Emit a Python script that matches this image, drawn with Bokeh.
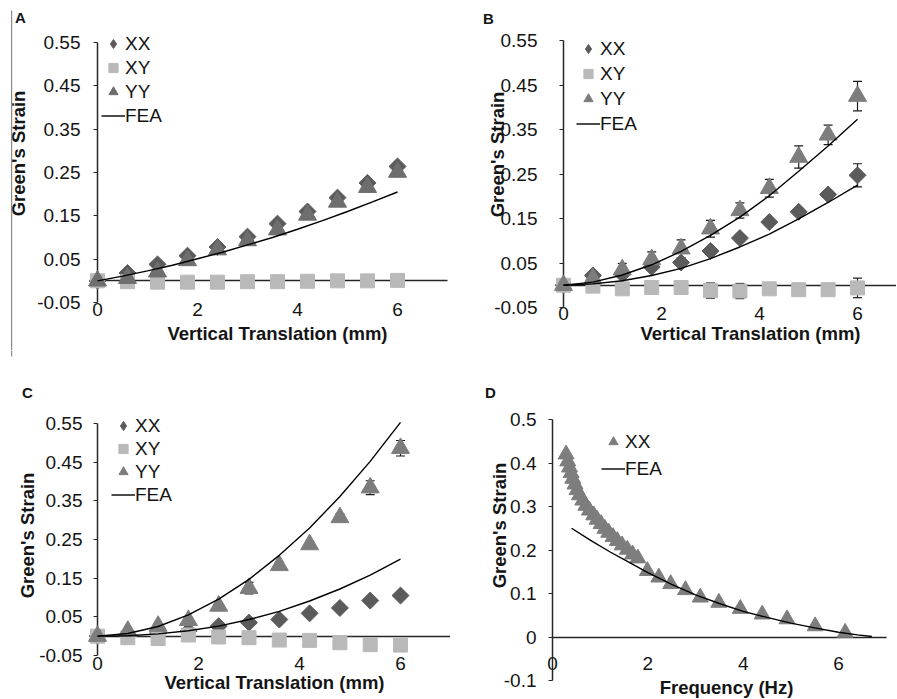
from bokeh.plotting import figure
from bokeh.models import (ColumnDataSource, Label, Legend, LegendItem, FixedTicker,
                          Whisker, TeeHead, BoxAnnotation, Range1d, LinearAxis)
from bokeh.layouts import column, row
from bokeh.embed import file_html
from bokeh.resources import INLINE

# ---------------- data ----------------
disp = [0, 0.6, 1.2, 1.8, 2.4, 3.0, 3.6, 4.2, 4.8, 5.4, 6.0]

A_xx = [0.000, 0.018, 0.038, 0.058, 0.078, 0.102, 0.132, 0.160, 0.192, 0.226, 0.264]
A_xy = [0.000, -0.002, -0.003, -0.003, -0.003, -0.002, -0.002, -0.001, 0.000, 0.000, 0.001]
A_yy = [0.000, 0.006, 0.021, 0.047, 0.072, 0.093, 0.118, 0.152, 0.182, 0.216, 0.251]
A_fea_x = [0, 0.5, 1, 1.5, 2, 2.5, 3, 3.5, 4, 4.5, 5, 5.5, 6]
A_fea = [0.000, 0.011, 0.023, 0.036, 0.051, 0.066, 0.083, 0.100, 0.119, 0.139, 0.160, 0.182, 0.205]

B_xx = [0.000, 0.022, 0.025, 0.041, 0.051, 0.077, 0.106, 0.142, 0.165, 0.204, 0.247]
B_xx_err = [0.000, 0.004, 0.005, 0.006, 0.007, 0.008, 0.008, 0.008, 0.008, 0.006, 0.026]
B_xy = [0.000, -0.002, -0.008, -0.005, -0.005, -0.012, -0.013, -0.008, -0.010, -0.010, -0.006]
B_xy_err = [0.000, 0.003, 0.003, 0.003, 0.003, 0.017, 0.017, 0.004, 0.004, 0.004, 0.022]
B_yy = [0.000, 0.015, 0.035, 0.058, 0.082, 0.127, 0.168, 0.218, 0.288, 0.338, 0.425]
B_yy_err = [0.000, 0.006, 0.014, 0.017, 0.020, 0.019, 0.017, 0.020, 0.025, 0.022, 0.033]
B_fea_yy = [0.000, 0.007, 0.023, 0.046, 0.076, 0.112, 0.153, 0.201, 0.256, 0.313, 0.373]
B_fea_xx = [0.000, 0.003, 0.010, 0.022, 0.038, 0.060, 0.086, 0.115, 0.149, 0.186, 0.225]

C_xx = [0.000, 0.004, 0.008, 0.013, 0.026, 0.035, 0.043, 0.059, 0.073, 0.092, 0.105]
C_xy = [0.000, -0.004, -0.006, 0.003, -0.002, -0.004, -0.010, -0.011, -0.017, -0.022, -0.023]
C_yy = [0.000, 0.013, 0.026, 0.041, 0.078, 0.124, 0.183, 0.237, 0.307, 0.384, 0.486]
C_yy_err = [0.000, 0.004, 0.005, 0.005, 0.006, 0.015, 0.008, 0.007, 0.009, 0.018, 0.020]
C_fea_yy = [0.000, 0.007, 0.025, 0.055, 0.096, 0.147, 0.209, 0.280, 0.361, 0.452, 0.553]
C_fea_xx = [0.000, 0.001, 0.006, 0.014, 0.026, 0.043, 0.064, 0.091, 0.122, 0.158, 0.199]

D_freq = [0.285, 0.32, 0.356, 0.39, 0.425, 0.473, 0.515, 0.565, 0.635, 0.70, 0.775, 0.865,
          0.935, 1.02, 1.10, 1.18, 1.27, 1.36, 1.46, 1.57, 1.68, 1.79, 1.99, 2.23, 2.48,
          2.79, 3.10, 3.49, 3.94, 4.40, 4.92, 5.51, 6.14]
D_xx = [0.420, 0.404, 0.390, 0.377, 0.364, 0.351, 0.338, 0.326, 0.314, 0.302, 0.291, 0.280,
        0.270, 0.260, 0.249, 0.240, 0.230, 0.221, 0.211, 0.201, 0.190, 0.181, 0.152, 0.137,
        0.122, 0.108, 0.091, 0.079, 0.065, 0.052, 0.041, 0.025, 0.010]
D_fea_x = [0.4, 0.8, 1.2, 1.6, 2.0, 2.5, 3.0, 3.5, 4.0, 4.5, 5.0, 5.5, 6.0, 6.4, 6.7]
D_fea = [0.250, 0.222, 0.196, 0.172, 0.148, 0.121, 0.097, 0.077, 0.059, 0.045, 0.032,
         0.021, 0.011, 0.005, 0.001]

x_ticks = [0, 2, 4, 6]
y_ticks_abc = [-0.05, 0.05, 0.15, 0.25, 0.35, 0.45, 0.55]
y_labels_abc = ["-0.05", "0.05", "0.15", "0.25", "0.35", "0.45", "0.55"]
y_ticks_d = [-0.1, 0, 0.1, 0.2, 0.3, 0.4, 0.5]
y_labels_d = ["-0.1", "0", "0.1", "0.2", "0.3", "0.4", "0.5"]

# ---------------- style / geometry ----------------
FONT = "Liberation Sans"
C_XX = "#5b5b5b"
C_XY = "#b9b9b9"
C_YY = "#7d7d7d"
AX = "#262626"
TXT = "#141414"
TICK_FS = "19px"
TITLE_FS = "18.5px"
NAN = float("nan")

# box = (left, top, width, height) in page px; x anchors: px of x=0 and x=6;
# y anchors: (px, value) for top and bottom of the value axis
GA = dict(box=(0, 0, 450, 350), xa=(97, 397), ya=((42, 0.55), (302, -0.05)), xmax=7)
GB = dict(box=(450, 0, 446, 350), xa=(563, 857), ya=((40, 0.55), (307, -0.05)), xmax=7)
GC = dict(box=(0, 350, 450, 348), xa=(97, 400), ya=((423, 0.55), (655, -0.05)), xmax=7)
GD = dict(box=(450, 350, 446, 348), xa=(552, 838), ya=((419, 0.5), (680, -0.1)), xmax=7)


def prep(g):
    bx, by, bw, bh = g['box']
    px0, px6 = g['xa']
    g['sx'] = (px6 - px0) / 6.0
    (pyt, vt), (pyb, vb) = g['ya']
    g['sy'] = (pyb - pyt) / (vt - vb)
    g['x_start'] = -(px0 - bx) / g['sx']
    g['x_end'] = (bx + bw - px0) / g['sx']
    g['y_end'] = vt + (pyt - by) / g['sy']
    g['y_start'] = vb - (by + bh - pyb) / g['sy']
    g['ybounds'] = (vb, vt)


for _g in (GA, GB, GC, GD):
    prep(_g)


def to_data(g, sx, sy):
    px0 = g['xa'][0]
    pyt, vt = g['ya'][0]
    return (sx - px0) / g['sx'], vt - (sy - pyt) / g['sy']


def make_fig(g, yt, yl, ystand, xstand, fixed_x_zero=False):
    bx, by, bw, bh = g['box']
    p = figure(width=bw, height=bh, x_range=Range1d(g['x_start'], g['x_end']),
               y_range=Range1d(g['y_start'], g['y_end']), output_backend="svg",
               toolbar_location=None, min_border=0)
    p.xgrid.visible = False
    p.ygrid.visible = False
    p.outline_line_color = None
    p.background_fill_color = "white"
    p.border_fill_color = "white"

    ya = p.yaxis[0]
    ya.fixed_location = 0
    ya.bounds = g['ybounds']
    ya.level = "underlay"
    ya.ticker = FixedTicker(ticks=yt)
    ya.major_label_overrides = {t: s for t, s in zip(yt, yl)}
    ya.axis_line_color = AX
    ya.axis_line_width = 1.5
    ya.major_tick_line_color = AX
    ya.major_tick_line_width = 1.2
    ya.major_tick_in = 0
    ya.major_tick_out = 4
    ya.minor_tick_line_color = None
    ya.major_label_standoff = ystand
    ya.major_label_text_font = FONT
    ya.major_label_text_font_size = TICK_FS
    ya.major_label_text_color = TXT

    xa = p.xaxis[0]
    xa.level = "underlay"
    xa.ticker = FixedTicker(ticks=x_ticks)
    xa.major_tick_line_color = None
    xa.minor_tick_line_color = None
    xa.major_label_standoff = xstand
    xa.major_label_text_font = FONT
    xa.major_label_text_font_size = TICK_FS
    xa.major_label_text_color = TXT
    xend = min(g['xmax'], g['x_end'])
    if fixed_x_zero:
        xa.fixed_location = 0
        xa.bounds = (0, xend)
        xa.axis_line_color = AX
        xa.axis_line_width = 1.5
    else:
        xa.fixed_location = g['ybounds'][0]
        xa.bounds = (0, xend)
        xa.axis_line_color = None
        zero = LinearAxis(fixed_location=0, bounds=(0, xend), ticker=FixedTicker(ticks=[]),
                          axis_line_color=AX, axis_line_width=1.5, major_tick_line_color=None,
                          minor_tick_line_color=None, level="underlay")
        p.add_layout(zero, "below")
    return p


def add_texts(p, g, letter, lxy, ytitle_xy, xtitle, xtitle_xy):
    x, y = to_data(g, *lxy)
    p.add_layout(Label(x=x, y=y, text=letter, text_font=FONT, text_font_size="15px",
                       text_font_style="bold", text_align="center", text_baseline="middle",
                       text_color=TXT))
    x, y = to_data(g, *ytitle_xy)
    p.add_layout(Label(x=x, y=y, text="Green's Strain", angle=1.5707963, text_font=FONT,
                       text_font_size=TITLE_FS, text_font_style="bold", text_align="center",
                       text_baseline="middle", text_color=TXT))
    x, y = to_data(g, *xtitle_xy)
    p.add_layout(Label(x=x, y=y, text=xtitle, text_font=FONT, text_font_size=TITLE_FS,
                       text_font_style="bold", text_align="center", text_baseline="middle",
                       text_color=TXT))


def add_legend(p, g, items, left, top, spacing):
    bx, by, bw, bh = g['box']
    n = len(items)
    ih = 23
    hgt = n * ih + (n - 1) * spacing
    loc = (left - bx, (by + bh) - (top + hgt))
    leg = Legend(items=[LegendItem(label=lab, renderers=[r]) for lab, r in items],
                 location=loc, orientation="vertical", padding=0, margin=0, spacing=spacing,
                 glyph_width=24, glyph_height=ih, label_height=ih, label_standoff=0,
                 label_text_font=FONT, label_text_font_size=TICK_FS, label_text_color=TXT,
                 border_line_color=None, background_fill_alpha=0)
    p.add_layout(leg)


def whisk(p, xs, ys, errs):
    src = ColumnDataSource(dict(x=xs, lo=[a - b for a, b in zip(ys, errs)],
                                hi=[a + b for a, b in zip(ys, errs)]))
    w = Whisker(base="x", lower="lo", upper="hi", source=src, dimension="height",
                line_color="#1a1a1a", line_width=1.2, level="underlay",
                upper_head=TeeHead(size=9, line_color="#1a1a1a", line_width=1.2),
                lower_head=TeeHead(size=9, line_color="#1a1a1a", line_width=1.2))
    p.add_layout(w)


def strain_panel(g, xx, xy, yy, fea_sets, fea_x, letter, lxy, yt_xy, xt_xy, ystand, xstand,
                 leg_left, leg_top, leg_sp, yy_color=C_YY, errs=None):
    p = make_fig(g, y_ticks_abc, y_labels_abc, ystand, xstand)
    if errs:
        for vals, e in errs:
            whisk(p, disp, vals, e)
    p.scatter(disp, xx, marker="square", angle=0.785398, size=12, color=C_XX)
    r_xy = p.scatter(disp, xy, marker="square", size=14, color=C_XY)
    r_yy = p.scatter(disp, yy, marker="triangle", size=18, color=yy_color)
    lines = [p.line(fea_x, f, line_color="black", line_width=1.4) for f in fea_sets]
    # legend key for the diamond series (legend keys are not rotated by Bokeh)
    k_xx = p.scatter([NAN], [NAN], marker="diamond", size=12, color=C_XX)
    add_legend(p, g, [("XX", k_xx), ("XY", r_xy), ("YY", r_yy), ("FEA", lines[0])],
               leg_left, leg_top, leg_sp)
    add_texts(p, g, letter, lxy, yt_xy, "Vertical Translation (mm)", xt_xy)
    return p


pA = strain_panel(GA, A_xx, A_xy, A_yy, [A_fea], A_fea_x, "A", (20, 17), (18, 153), (277, 333),
                  13, -6, 101, 32, 1, yy_color="#6e6e6e")
pB = strain_panel(GB, B_xx, B_xy, B_yy, [B_fea_yy, B_fea_xx], disp, "B", (488, 18), (497, 154),
                  (750, 333), 22, -7, 576, 37, 2,
                  errs=[(B_yy, B_yy_err), (B_xx, B_xx_err), (B_xy, B_xy_err)])
pC = strain_panel(GC, C_xx, C_xy, C_yy, [C_fea_yy, C_fea_xx], disp, "C", (27, 392), (27, 535),
                  (274, 682), 11, -5, 111, 414, 0, errs=[(C_yy, C_yy_err)])

# thin gray border line at the far left of the original figure
for g, p, (t, b) in ((GA, pA, (10, 350)), (GC, pC, (350, 356))):
    x0, y0 = to_data(g, 10.5, t)
    x1, y1 = to_data(g, 11.7, b)
    p.add_layout(BoxAnnotation(left=x0, right=x1, top=y0, bottom=y1, fill_color="#8a8a8a",
                               fill_alpha=1, line_color=None))

# panel D
pD = make_fig(GD, y_ticks_d, y_labels_d, 12, 14, fixed_x_zero=True)
rD = pD.scatter(D_freq, D_xx, marker="triangle", size=16, color=C_YY)
lD = pD.line(D_fea_x, D_fea, line_color="black", line_width=1.4)
add_legend(pD, GD, [("XX", rD), ("FEA", lD)], 601, 430, 4)
add_texts(pD, GD, "D", (490, 392), (499, 525), "Frequency (Hz)", (726, 687))

layout = column(row(pA, pB), row(pC, pD))
open("out.html", "w").write(file_html(layout, INLINE))
